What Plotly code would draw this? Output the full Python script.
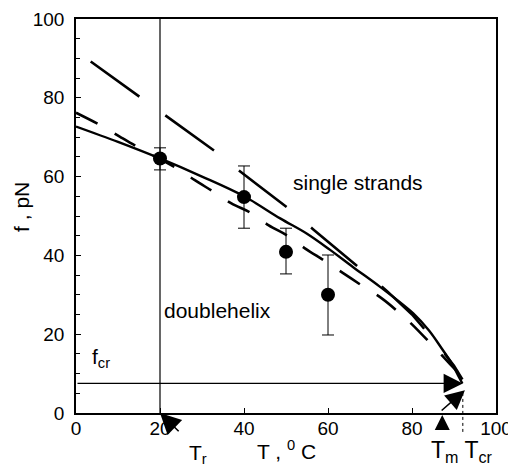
import plotly.graph_objects as go

# measured points
meas_T = [20, 40, 50, 60]
meas_f = [64.6, 54.8, 40.9, 30.0]
err_plus = [2.7, 7.9, 6.0, 10.1]
err_minus = [2.9, 7.9, 5.6, 10.2]

# solid theory curve
solid_T = [0, 10, 20, 30, 40, 48.6, 55, 60.5, 66, 72.4, 80.3, 84, 87, 89.5, 91, 92]
solid_f = [72.7, 68.8, 64.6, 60.0, 55.0, 49.4, 45.5, 41.4, 37.0, 32.0, 25.3, 21.0, 16.5, 12.5, 9.5, 7.5]

# long-dash curve
ldash_T = [0, 6.4, 10.5, 15.2, 24, 28.3, 33.1, 37, 41.8, 45.8, 51, 54.5, 58.9, 63.6, 68.4, 72.8, 76.7, 80, 85, 89, 93]
ldash_f = [76.2, 72.7, 70.1, 67.2, 62.1, 59.1, 55.9, 53.2, 50.7, 47.7, 44.6, 41.8, 38.8, 35.5, 32.1, 29.1, 25.7, 22.5, 17.0, 12.5, 8.0]

# "single strands" dashed curve
sdash_T = [3.5, 15.1, 21.2, 32.9, 38.6, 50.5, 56.5, 68, 74, 80, 86, 90, 92]
sdash_f = [89.2, 80.3, 75.4, 66.6, 61.7, 52.0, 46.6, 36.5, 31.0, 25.0, 17.5, 12.0, 8.5]

x_ticks = [0, 20, 40, 60, 80, 100]
y_ticks = [0, 20, 40, 60, 80, 100]

T_r = 20
T_m = 87.2
T_cr = 92.1
f_cr = 7.5

Y_RANGE = [0, 100]
X_RANGE = [0, 100]

FONT = "Liberation Sans, Arial, Helvetica, sans-serif"


def py(v):
    """data y -> y-domain fraction (used for items below the axis)"""
    return (v - Y_RANGE[0]) / (Y_RANGE[1] - Y_RANGE[0])


fig = go.Figure()

fig.add_trace(go.Scatter(x=sdash_T, y=sdash_f, mode="lines",
                         line=dict(color="black", width=2.6, dash="60px,32px"),
                         showlegend=False, hoverinfo="skip"))
fig.add_trace(go.Scatter(x=ldash_T, y=ldash_f, mode="lines",
                         line=dict(color="black", width=2.6, dash="24px,20px", shape="spline"),
                         showlegend=False, hoverinfo="skip"))
fig.add_trace(go.Scatter(x=solid_T, y=solid_f, mode="lines",
                         line=dict(color="black", width=2.4, shape="spline"),
                         showlegend=False, hoverinfo="skip"))
fig.add_trace(go.Scatter(x=meas_T, y=meas_f, mode="markers",
                         marker=dict(color="black", size=14),
                         error_y=dict(type="data", array=err_plus, arrayminus=err_minus,
                                      color="black", thickness=1, width=6),
                         showlegend=False))

# vertical line at T_r
fig.add_shape(type="line", xref="x", yref="y", x0=T_r, x1=T_r, y0=0, y1=100,
              line=dict(color="black", width=1.2))
# dotted line at T_cr extending below axis
fig.add_shape(type="line", xref="x", yref="paper", x0=T_cr, x1=T_cr, y0=py(-4.8), y1=py(5),
              line=dict(color="black", width=1, dash="dot"))

ann = []
# horizontal f_cr arrow
ann.append(dict(x=T_cr, y=f_cr, ax=0, ay=f_cr, xref="x", yref="y", axref="x", ayref="y",
                text="", showarrow=True, arrowhead=2, arrowwidth=1.2, arrowsize=3.2,
                arrowcolor="black", standoff=0))
# T_m -> T_cr arrow
ann.append(dict(x=92.6, y=5.8, ax=86.7, ay=0.3, xref="x", yref="y", axref="x", ayref="y",
                text="", showarrow=True, arrowhead=2, arrowwidth=1.6, arrowsize=2.4,
                arrowcolor="black", standoff=0))
# T_m up arrow below axis
ann.append(dict(x=T_m, y=py(-0.5), ax=T_m, ay=py(-4.5), xref="x", yref="y domain",
                axref="x", ayref="y domain",
                text="", showarrow=True, arrowhead=2, arrowwidth=1.5, arrowsize=2.0,
                arrowcolor="black", standoff=0))
# T_r arrow
ann.append(dict(x=T_r, y=py(0), ax=24.8, ay=py(-5), xref="x", yref="y domain",
                axref="x", ayref="y domain",
                text="", showarrow=True, arrowhead=2, arrowwidth=1.6, arrowsize=2.6,
                arrowcolor="black", standoff=0))

tf = dict(family=FONT, size=21, color="black")
ann.append(dict(x=51.2, y=58.4, xref="x", yref="y", text="single strands", showarrow=False,
                xanchor="left", yanchor="middle", font=tf))
ann.append(dict(x=20.5, y=26.1, xref="x", yref="y", text="doublehelix", showarrow=False,
                xanchor="left", yanchor="middle", font=tf))
ann.append(dict(x=3.4, y=14.0, xref="x", yref="y", text="f<sub>cr</sub>", showarrow=False,
                xanchor="left", yanchor="middle", font=tf))
ann.append(dict(x=26.4, y=py(-10.5), xref="x", yref="paper", text="T<sub>r</sub>", showarrow=False,
                xanchor="left", yanchor="middle", font=tf))
ann.append(dict(x=42.6, y=py(-9.5), xref="x", yref="paper", text="T , <sup>0</sup> C", showarrow=False,
                xanchor="left", yanchor="middle", font=tf))
ann.append(dict(x=84.0, y=py(-9.8), xref="x", yref="paper",
                text="T<sub>m</sub> T<sub>cr</sub>",
                showarrow=False, xanchor="left", yanchor="middle",
                font=dict(family=FONT, size=23, color="black")))
ann.append(dict(x=-0.13, y=0.524, xref="paper", yref="paper", text="f , pN", showarrow=False,
                textangle=-90, xanchor="center", yanchor="middle", font=tf))

fig.update_layout(
    width=508, height=465,
    margin=dict(l=68, r=20, t=11, b=60, autoexpand=False),
    paper_bgcolor="white", plot_bgcolor="white",
    font=dict(family=FONT, size=19, color="black"),
    annotations=ann,
    showlegend=False,
)
fig.update_xaxes(range=X_RANGE, tickvals=x_ticks, ticks="inside", ticklen=5, tickwidth=1,
                 tickcolor="black", showline=True, linecolor="black", linewidth=1.5,
                 mirror=True, showgrid=False, zeroline=False, automargin=False,
                 tickfont=dict(family=FONT, size=19), ticklabelstandoff=-3)
fig.update_yaxes(range=Y_RANGE, tickvals=y_ticks, ticks="inside", ticklen=5, tickwidth=1,
                 tickcolor="black", showline=True, linecolor="black", linewidth=1.5,
                 mirror=True, showgrid=False, zeroline=False, automargin=False,
                 minor=dict(dtick=5, ticks="inside", ticklen=4, tickcolor="black", tickwidth=1),
                 tickfont=dict(family=FONT, size=19), ticklabelstandoff=6)

fig.write_html("out.html")
